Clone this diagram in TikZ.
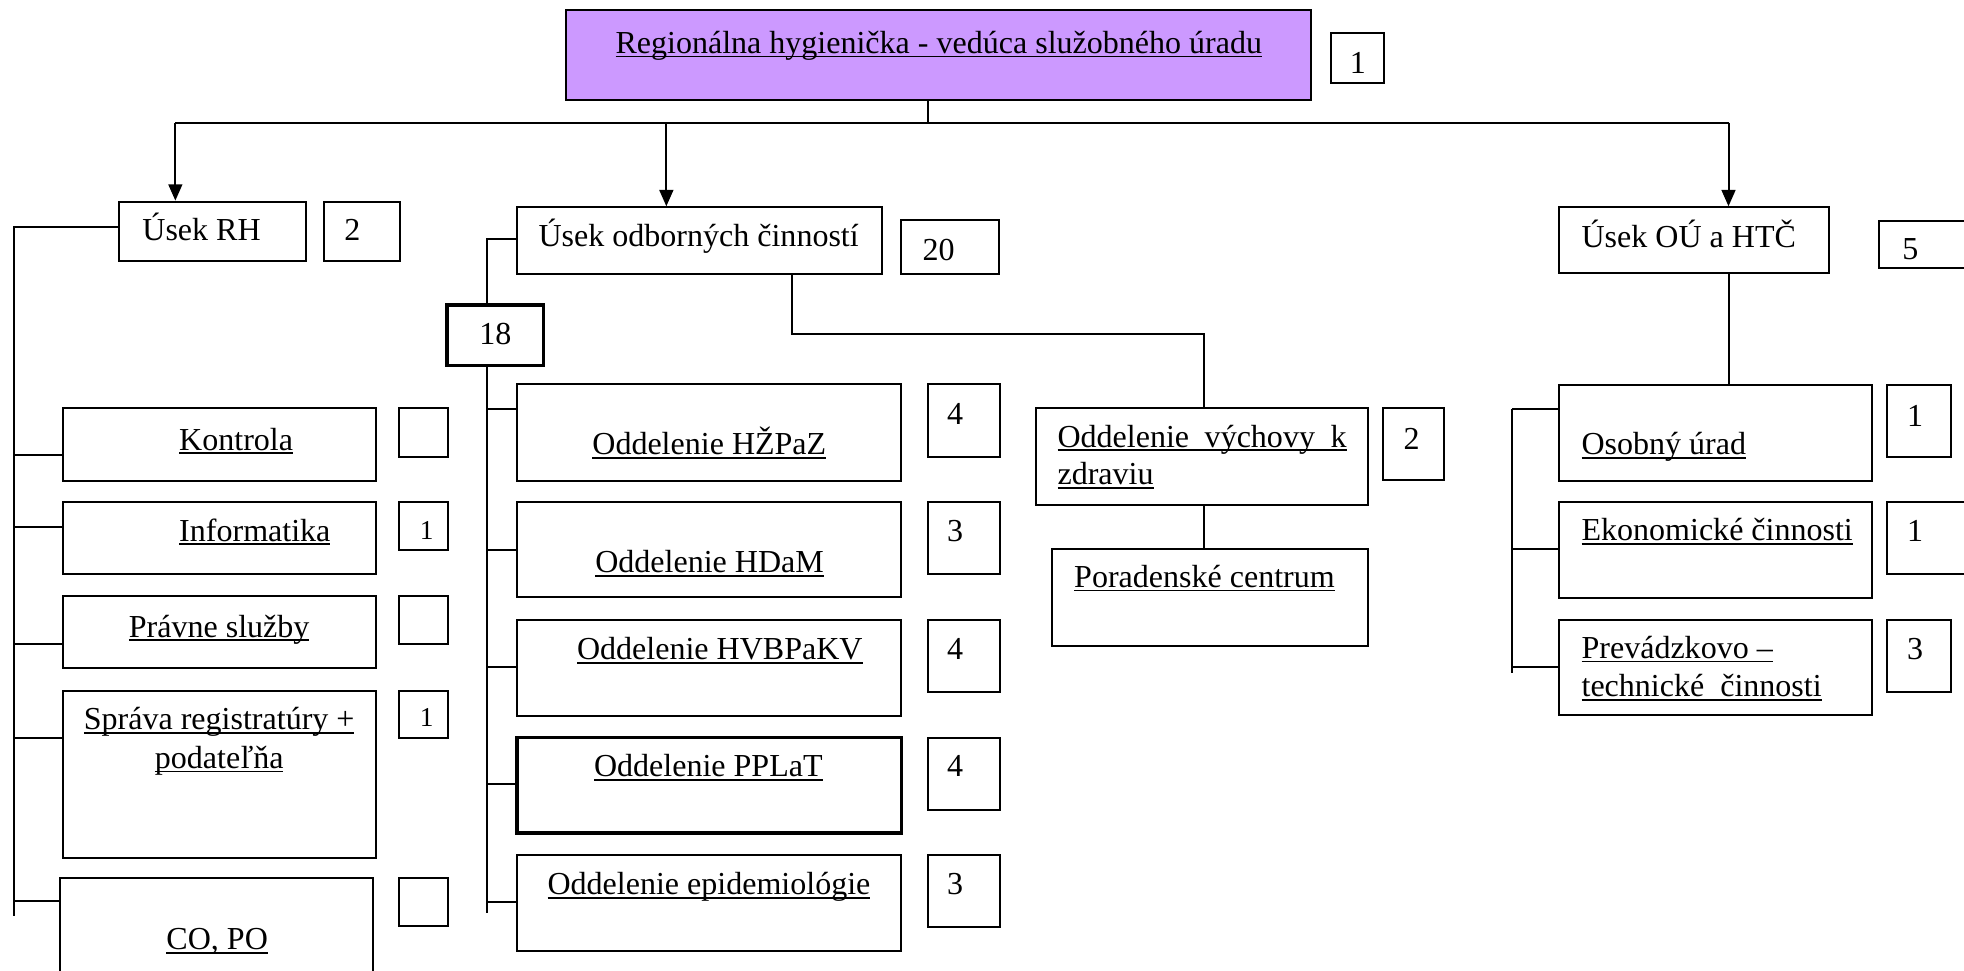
\documentclass[tikz,border=0pt]{standalone}
\usepackage{fontspec}
\setmainfont{Liberation Serif}
\usetikzlibrary{arrows.meta,fit}
\definecolor{rhviolet}{RGB}{204,153,255}
\newsavebox{\ulbox}
\newcommand{\uln}[1]{\sbox{\ulbox}{#1}\rlap{\rule[-0.9pt]{\wd\ulbox}{0.4pt}}\usebox{\ulbox}}

\begin{document}
\begin{tikzpicture}[x=0.01cm, y=-0.01cm, >={Triangle[length=1.3mm,width=1.1mm]},
  box/.style={draw, line width=0.45pt, inner sep=0pt},
  thickbox/.style={box, line width=0.8pt},
  txt/.style={inner sep=0pt, font=\fontsize{7.27pt}{8.7pt}\selectfont},
  lt/.style={txt, anchor=base west},
  ct/.style={txt, anchor=base},
  smallnum/.style={ct, font=\fontsize{6.2pt}{7pt}\selectfont},
  link/.style={line width=0.45pt}]
\useasboundingbox (0,0) rectangle (1568,775.2);

\node[box, fill=rhviolet, fit={(452,8) (1047,80)}] (rh) {};
\node[ct] (trh) at (749.5,42.6) {\uln{Regionálna hygienička - vedúca služobného úradu}};
\node[box, fit={(1063,26) (1105,66)}] (nrh) {};
\node[ct] (tnrh) at (1084,59) {1};

\node[box, fit={(95,161) (244,208)}] (usekrh) {};
\node[lt] (tusekrh) at (113,192) {Úsek RH};
\node[box, fit={(259,161) (319,208)}] (nusekrh) {};
\node[ct] (tnusekrh) at (281.4,192) {2};

\node[box, fit={(50.3,325.7) (300.2,384)}] (kontrola) {};
\node[lt] (tkontrola) at (142.4,359.3) {\uln{Kontrola}};
\node[box, fit={(318.5,326) (357.4,364.6)}] (nkontrola) {};
\node[box, fit={(50.3,400.5) (300.2,458)}] (informatika) {};
\node[lt] (tinformatika) at (142.4,432) {\uln{Informatika}};
\node[box, fit={(318.5,400.5) (357.4,439)}] (ninformatika) {};
\node[smallnum] (tninformatika) at (340.6,431) {1};
\node[box, fit={(50,475.8) (300,533.3)}] (pravne) {};
\node[ct] (tpravne) at (175,508.8) {\uln{Právne služby}};
\node[box, fit={(318.5,475.8) (357.4,514.4)}] (npravne) {};
\node[box, fit={(50,551.4) (300,684.7)}] (sprava) {};
\node[ct] (tsprava) at (175,582.8) {\uln{Správa registratúry +}};
\node[ct] (tsprava2) at (175,613.4) {\uln{podateľňa}};
\node[box, fit={(318.5,551.4) (357.4,589.4)}] (nsprava) {};
\node[smallnum] (tnsprava) at (340.6,580.4) {1};
\node[box, fit={(48.2,701.2) (297.5,790)}] (copo) {};
\node[ct] (tcopo) at (173.4,758.4) {\uln{CO, PO}};
\node[box, fit={(318.5,701.2) (357.4,739.3)}] (ncopo) {};

\node[box, fit={(412.6,165.5) (704.4,218.7)}] (usekodb) {};
\node[lt] (tusekodb) at (429.3,196.9) {Úsek odborných činností};
\node[box, fit={(719,175.6) (797.8,218.7)}] (nusekodb) {};
\node[lt] (tnusekodb) at (735.8,207.6) {20};
\node[thickbox, fit={(357,243.5) (434,292)}] (odb18) {};
\node[ct] (todb18) at (395.5,275.4) {18};

\node[box, fit={(412.6,306.6) (719.6,384)}] (hzpaz) {};
\node[ct] (thzpaz) at (566.3,363.2) {\uln{Oddelenie HŽPaZ}};
\node[box, fit={(740.6,306.6) (798.5,364.6)}] (nhzpaz) {};
\node[ct] (tnhzpaz) at (762.6,339.3) {4};
\node[box, fit={(412.6,401) (719.6,476.9)}] (hdam) {};
\node[ct] (thdam) at (566.5,457.2) {\uln{Oddelenie HDaM}};
\node[box, fit={(740.6,401) (798.5,458)}] (nhdam) {};
\node[ct] (tnhdam) at (762.6,432.4) {3};
\node[box, fit={(412.6,495) (719.6,571.6)}] (hvbpakv) {};
\node[ct] (thvbpakv) at (574.7,526.9) {\uln{Oddelenie HVBPaKV}};
\node[box, fit={(740.6,495) (798.5,552.5)}] (nhvbpakv) {};
\node[ct] (tnhvbpakv) at (762.6,526.9) {4};
\node[thickbox, fit={(412.6,589) (719.6,665)}] (pplat) {};
\node[ct] (tpplat) at (565.5,620) {\uln{Oddelenie PPLaT}};
\node[box, fit={(740.6,589) (798.5,646.7)}] (npplat) {};
\node[ct] (tnpplat) at (762.6,620) {4};
\node[box, fit={(412.6,682.6) (719.6,759)}] (epid) {};
\node[ct] (tepid) at (566,714.5) {\uln{Oddelenie epidemiológie}};
\node[box, fit={(740.6,682.6) (798.5,739.8)}] (nepid) {};
\node[ct] (tnepid) at (762.6,714.5) {3};

\node[box, fit={(827.1,326) (1092.1,403.2)}] (vychova) {};
\node[lt] (tvychova) at (843.6,357.1) {\uln{\hbox to 2.307cm{Oddelenie\hfil výchovy\hfil k}}};
\node[lt] (tvychova2) at (843.6,387.2) {\uln{zdraviu}};
\node[box, fit={(1104.4,326) (1153,383.2)}] (nvychova) {};
\node[ct] (tnvychova) at (1127,358.5) {2};
\node[box, fit={(840.1,438.6) (1092.1,515.7)}] (poradna) {};
\node[lt] (tporadna) at (856.9,468.9) {\uln{Poradenské centrum}};

\node[box, fit={(1245,165.5) (1460,218.2)}] (usekou) {};
\node[lt] (tusekou) at (1262,197.5) {Úsek OÚ a HTČ};
\node[box, fit={(1500.3,176.2) (1580,214.2)}] (nusekou) {};
\node[lt] (tnusekou) at (1518,207) {5};
\node[box, fit={(1245,307.4) (1494.2,383.7)}] (osobny) {};
\node[lt] (tosobny) at (1262,363.2) {\uln{Osobný úrad}};
\node[box, fit={(1506.7,307.4) (1557.3,364.6)}] (nosobny) {};
\node[ct] (tnosobny) at (1528.9,340.6) {1};
\node[box, fit={(1245,401) (1494.2,477.7)}] (ekon) {};
\node[lt] (tekon) at (1262,431.6) {\uln{Ekonomické činnosti}};
\node[box, fit={(1506.7,401) (1580,458.2)}] (nekon) {};
\node[ct] (tnekon) at (1528.9,432.4) {1};
\node[box, fit={(1245,495) (1494.2,571)}] (prevadz) {};
\node[lt] (tprevadz) at (1262,525.6) {\uln{Prevádzkovo –}};
\node[lt] (tprevadz2) at (1262,556.2) {\uln{technické\ \ činnosti}};
\node[box, fit={(1506.7,495) (1557.3,552.2)}] (nprevadz) {};
\node[ct] (tnprevadz) at (1528.9,526.9) {3};

\coordinate (trunk) at (741,98);
\coordinate (hl) at (140,98);
\coordinate (hr) at (1380,98);
\draw[link] (rh.south -| trunk) -- (trunk);
\draw[link] (hl) -- (hr);
\draw[link,->] (hl) -- (hl |- usekrh.north);
\draw[link,->] (hl -| 532,0) -- (usekodb.north -| 532,0);
\draw[link,->] (hr) -- (hr |- usekou.north);

\coordinate (rhtop) at (11,181);
\coordinate (rhbot) at (11,731);
\draw[link] (usekrh.west |- rhtop) -- (rhtop) -- (rhbot);
\foreach \n/\y in {kontrola/363.2, informatika/420.5, pravne/514, sprava/589, copo/719.3}
  \draw[link] (rhtop |- 0,\y) -- (\n.west |- 0,\y);

\coordinate (odtop) at (389,191);
\coordinate (odbot) at (389,729);
\draw[link] (usekodb.west |- odtop) -- (odtop) -- (odtop |- odb18.north);
\draw[link] (odtop |- odb18.south) -- (odbot);
\foreach \n/\y in {hzpaz/326.6, hdam/439, hvbpakv/532.5, pplat/626, epid/720}
  \draw[link] (odtop |- 0,\y) -- (\n.west |- 0,\y);

\coordinate (odturn) at (632,266.6);
\draw[link] (usekodb.south -| odturn) -- (odturn) -| (vychova.north -| 961.5,0);
\draw[link] (vychova.south -| 961.5,0) -- (poradna.north -| 961.5,0);

\coordinate (outop) at (1207,326.5);
\coordinate (oubot) at (1207,537);
\draw[link] (usekou.south -| hr) -- (osobny.north -| hr);
\draw[link] (outop) -- (oubot);
\foreach \n/\y in {osobny/326.5, ekon/438.6, prevadz/532.2}
  \draw[link] (outop |- 0,\y) -- (\n.west |- 0,\y);
\end{tikzpicture}
\end{document}
